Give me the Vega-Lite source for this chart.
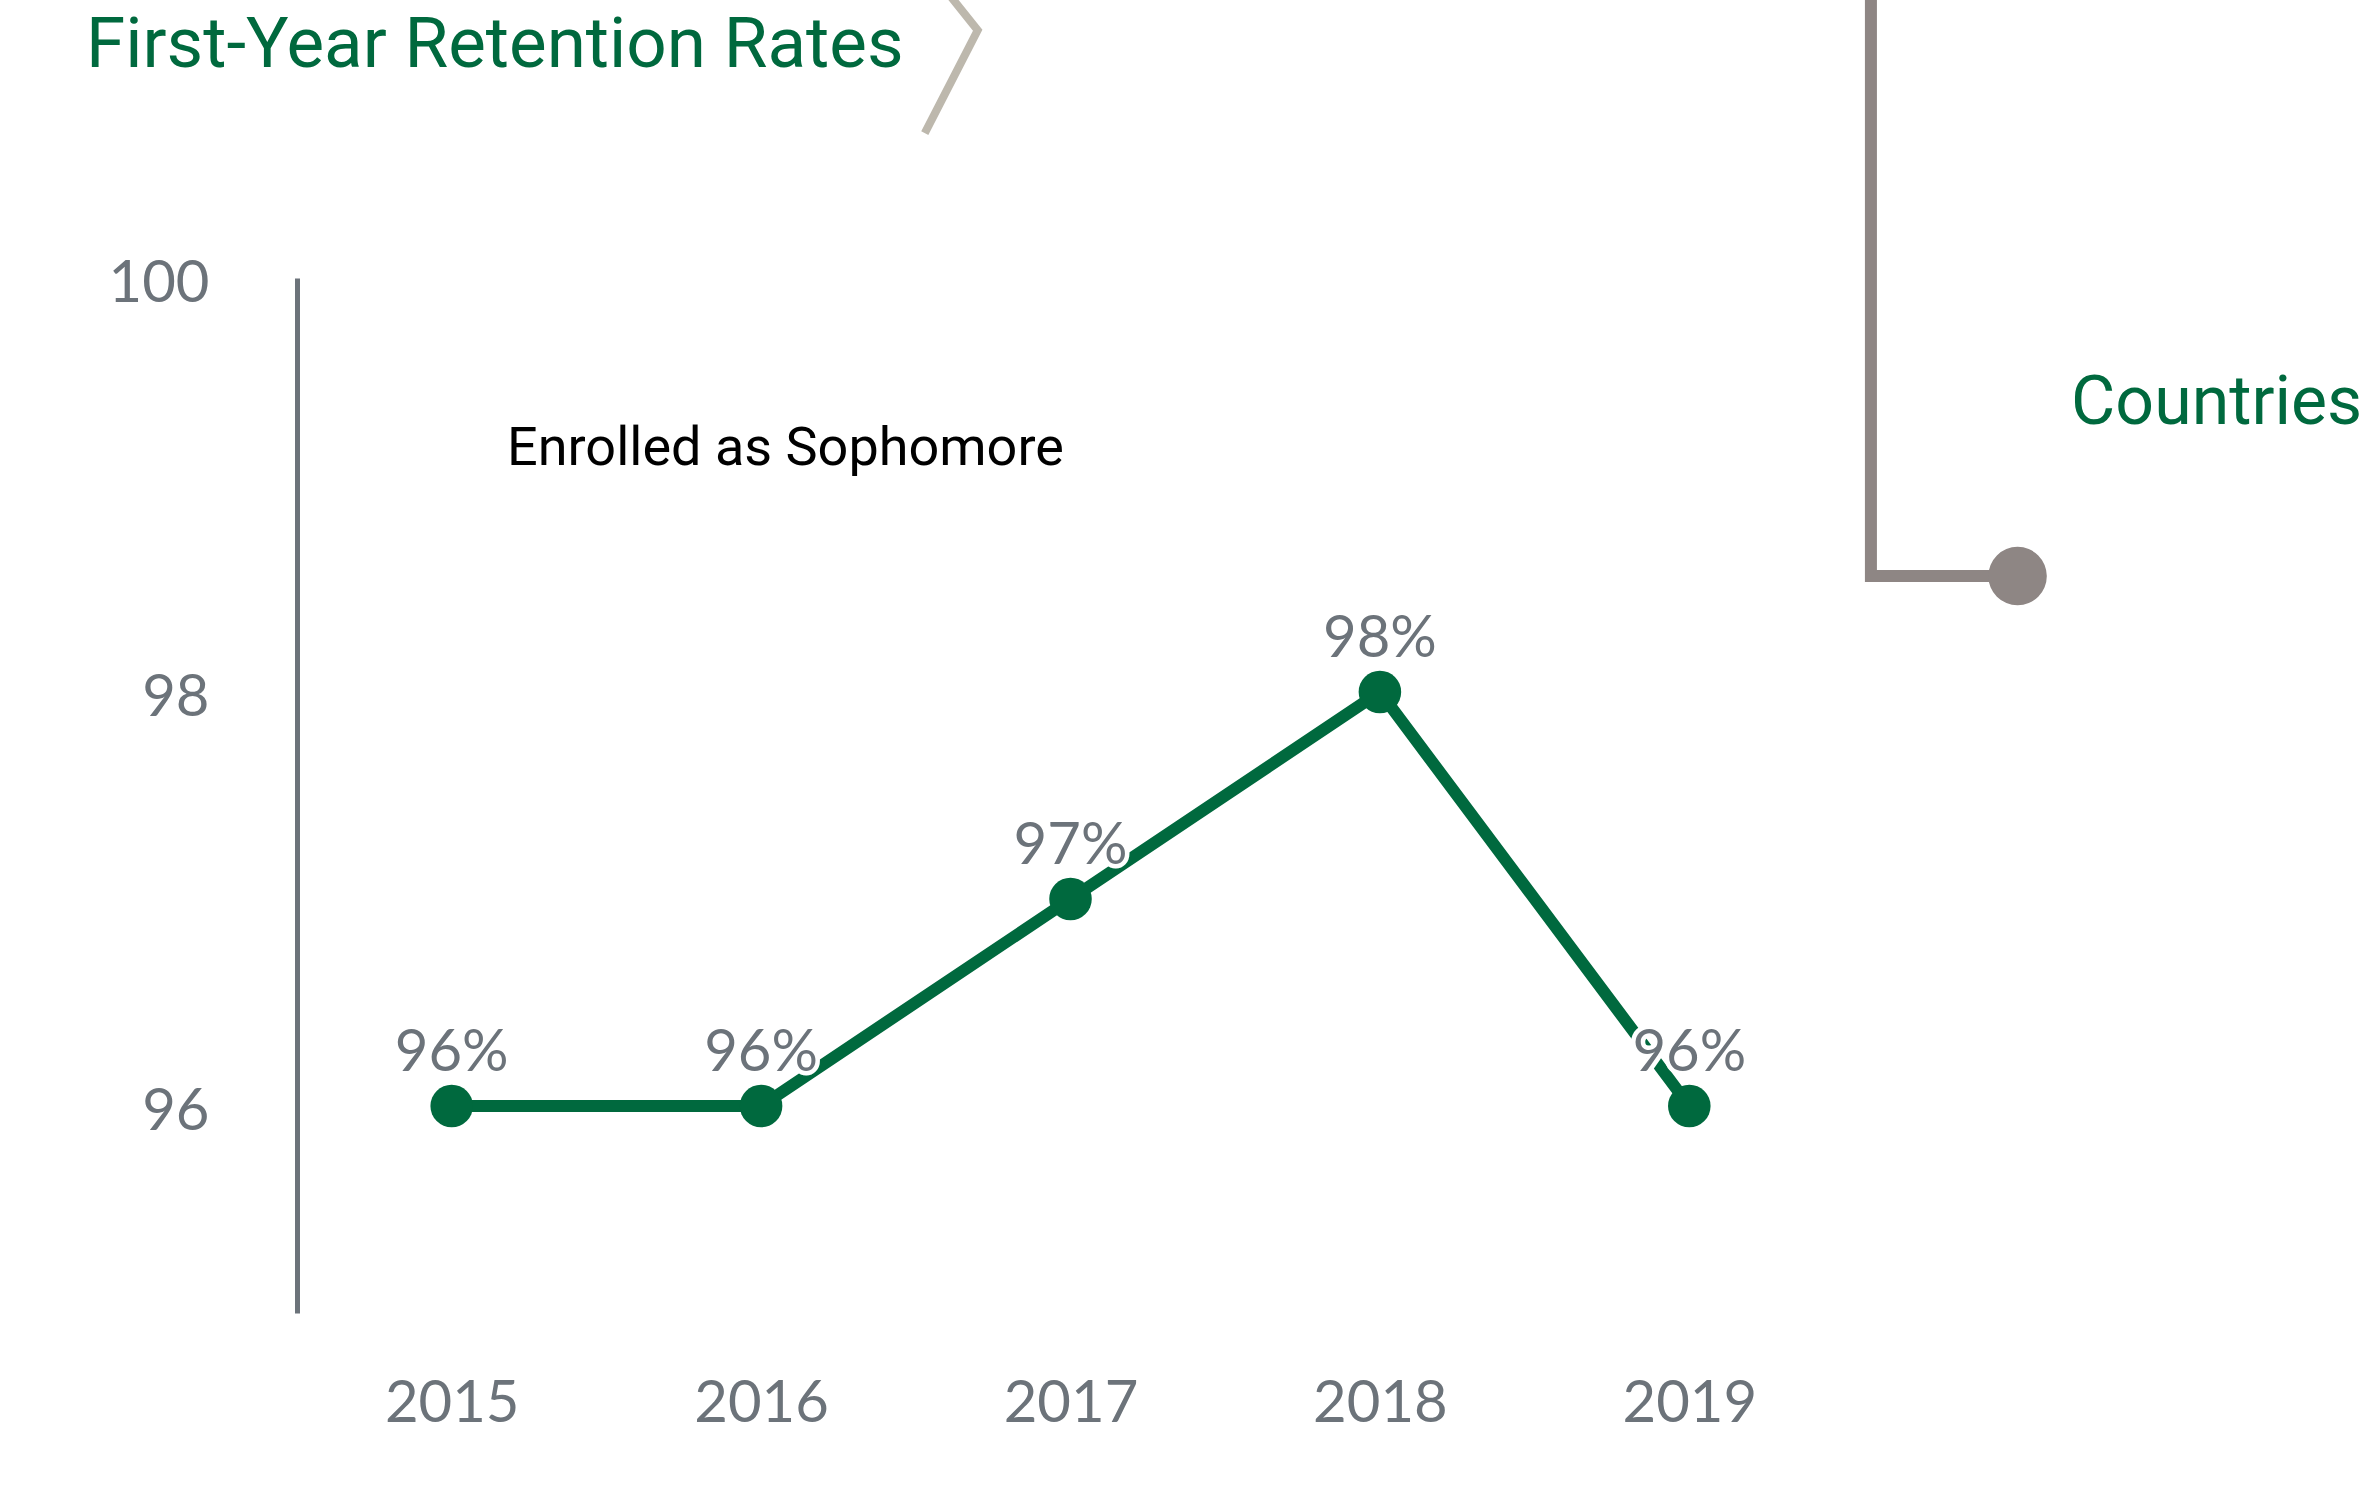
{
  "$schema": "https://vega.github.io/schema/vega-lite/v6.json",
  "autosize": "none",
  "width": 1547,
  "height": 1035,
  "padding": {"left": 297, "top": 278, "right": 529, "bottom": 190},
  "background": "white",
  "config": {"view": {"stroke": null}},
  "datasets": {
    "retention": [
      {"year": 2015, "rate": 96, "label": "96%"},
      {"year": 2016, "rate": 96, "label": "96%"},
      {"year": 2017, "rate": 97, "label": "97%"},
      {"year": 2018, "rate": 98, "label": "98%"},
      {"year": 2019, "rate": 96, "label": "96%"}
    ],
    "chevron": [
      {"px": 2016.609, "py": 101.367, "k": 1},
      {"px": 2016.700, "py": 101.197, "k": 2},
      {"px": 2016.529, "py": 100.700, "k": 3}
    ],
    "bracket": [
      {"px": 2019.587, "py": 101.39, "k": 1},
      {"px": 2019.587, "py": 98.560, "k": 2},
      {"px": 2020.061, "py": 98.560, "k": 3}
    ],
    "one": [{"n": 1}]
  },
  "layer": [
    {"data": {"name": "retention"},
     "mark": {"type": "line", "color": "#00693e", "strokeWidth": 12},
     "encoding": {
      "x": {"field": "year", "type": "quantitative",
        "scale": {"domain": [2014.5, 2019.5], "nice": false, "zero": false},
        "axis": {"title": null, "values": [2015, 2016, 2017, 2018, 2019], "format": "d",
          "domain": false, "ticks": false, "tickSize": 0, "grid": false,
          "labelFont": "Lato", "labelFontSize": 58, "labelColor": "#6c737a",
          "labelBaseline": "alphabetic", "labelPadding": 108, "labelFlush": false}},
      "y": {"field": "rate", "type": "quantitative",
        "scale": {"domain": [95, 100], "nice": false, "zero": false},
        "axis": {"title": null, "values": [96, 98, 100], "format": "d",
          "domain": true, "domainColor": "#6c737a", "domainWidth": 5,
          "ticks": false, "tickSize": 0, "grid": false,
          "labelFont": "Lato", "labelFontSize": 58, "labelColor": "#6c737a",
          "labelBaseline": "middle", "labelOffset": 6, "labelPadding": 88, "labelFlush": false}}
     }},
    {"data": {"name": "retention"},
     "mark": {"type": "point", "filled": true, "size": 1810, "color": "#00693e", "opacity": 1},
     "encoding": {"x": {"field": "year", "type": "quantitative"}, "y": {"field": "rate", "type": "quantitative"}}},
    {"data": {"name": "retention"},
     "mark": {"type": "text", "font": "Lato", "fontSize": 58, "dy": -35, "baseline": "alphabetic", "align": "center",
      "stroke": "white", "strokeWidth": 9, "fill": "white"},
     "encoding": {"x": {"field": "year", "type": "quantitative"}, "y": {"field": "rate", "type": "quantitative"}, "text": {"field": "label"}}},
    {"data": {"name": "retention"},
     "mark": {"type": "text", "font": "Lato", "fontSize": 58, "dy": -35, "baseline": "alphabetic", "align": "center", "color": "#6c737a"},
     "encoding": {"x": {"field": "year", "type": "quantitative"}, "y": {"field": "rate", "type": "quantitative"}, "text": {"field": "label"}}},
    {"data": {"name": "chevron"},
     "mark": {"type": "line", "color": "#bdb8ad", "strokeWidth": 8, "strokeJoin": "miter"},
     "encoding": {"x": {"field": "px", "type": "quantitative"}, "y": {"field": "py", "type": "quantitative"}, "order": {"field": "k"}}},
    {"data": {"name": "bracket"},
     "mark": {"type": "line", "color": "#8e8684", "strokeWidth": 12, "strokeJoin": "miter"},
     "encoding": {"x": {"field": "px", "type": "quantitative"}, "y": {"field": "py", "type": "quantitative"}, "order": {"field": "k"}}},
    {"data": {"name": "one"},
     "mark": {"type": "point", "filled": true, "size": 3421, "color": "#8e8684", "opacity": 1},
     "encoding": {"x": {"datum": 2020.061}, "y": {"datum": 98.560}}},
    {"data": {"name": "one"},
     "mark": {"type": "text", "text": "First-Year Retention Rates", "font": "Roboto", "fontSize": 71,
       "color": "#00693e", "align": "left", "baseline": "alphabetic"},
     "encoding": {"x": {"datum": 2013.818}, "y": {"datum": 101.019}}},
    {"data": {"name": "one"},
     "mark": {"type": "text", "text": "Enrolled as Sophomore", "font": "Roboto", "fontSize": 54,
       "color": "black", "align": "left", "baseline": "alphabetic"},
     "encoding": {"x": {"datum": 2015.179}, "y": {"datum": 99.097}}},
    {"data": {"name": "one"},
     "mark": {"type": "text", "text": "Countries", "font": "Roboto", "fontSize": 68,
       "color": "#00693e", "align": "left", "baseline": "alphabetic"},
     "encoding": {"x": {"datum": 2020.234}, "y": {"datum": 99.295}}}
  ]
}
